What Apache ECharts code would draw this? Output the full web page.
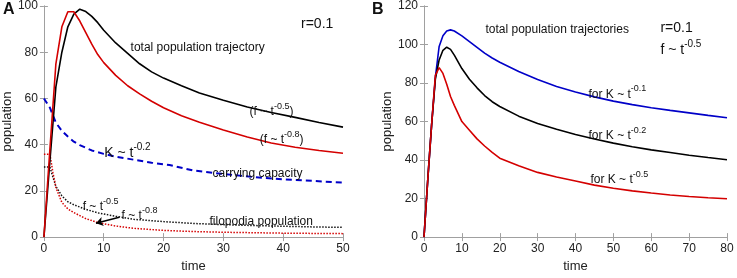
<!DOCTYPE html>
<html>
<head>
<meta charset="utf-8">
<script src="https://cdn.jsdelivr.net/npm/echarts@6/dist/echarts.min.js"></script>
<style>
  html, body { margin: 0; background: #fff; }
  #chart { width: 737px; height: 278px; }
</style>
</head>
<body>
<div id="chart"></div>
<script>
// ---- panel A data ----
const timeA = [0, 1, 2, 3, 4, 5, 6, 7, 8, 9, 10, 12, 14, 16, 18, 20, 23, 26, 30, 34, 38, 42, 46, 50];
const totalF05 = [0, 33, 65, 80, 91, 96.5, 98.6, 97.6, 95.5, 92.8, 89.5, 84, 79.5, 75, 71.5, 68.8, 65.5, 62.4, 59.2, 56.3, 53.9, 51.8, 49.6, 47.6];
const totalF08 = [0, 38, 75, 91, 97.5, 97.5, 93.5, 88.5, 83.5, 79, 75.5, 70, 65.5, 62, 58.8, 56, 52.5, 49.7, 46.3, 43.3, 40.7, 38.9, 37.5, 36.3];

const timeK = [0, 1, 2, 3, 4, 5, 6, 8, 10, 12, 15, 18, 21, 25, 30, 35, 40, 45, 50];
const capacityK = [60, 56, 49.5, 46, 43.5, 41.3, 39.8, 37.5, 36, 34.8, 33.5, 32.2, 31.2, 28.8, 27.3, 26, 25, 24.3, 23.6];

const timeFilo = [0, 1, 1.5, 2, 3, 4, 5, 7, 9, 12, 15, 20, 25, 30, 35, 40, 45, 50];
const filoF05 = [30.3, 30.3, 26, 22, 17.8, 15.3, 14, 12, 10.5, 9, 7.7, 6.7, 5.9, 5.4, 5, 4.7, 4.4, 4.2];
const filoF08 = [35.9, 35.9, 28, 21.5, 15, 12.2, 10.6, 8, 6.3, 4.8, 3.8, 2.9, 2.4, 2.1, 1.9, 1.7, 1.6, 1.5];

// ---- panel B data ----
const timeB = [0, 1, 2, 3, 4, 5, 6, 7, 8, 10, 12, 14, 16, 18, 20, 25, 30, 35, 40, 45, 50, 55, 60, 65, 70, 75, 80];
const totalK01 = [0, 30, 58, 83, 99, 104.5, 107, 107.6, 107, 104.5, 101.5, 98.5, 95.5, 93, 90.8, 86, 81.8, 78.2, 75.3, 72.8, 70.6, 68.8, 67.2, 65.8, 64.5, 63.2, 62];
const totalK02 = [0, 30, 58, 82, 92, 97, 98.6, 97.5, 94.5, 87.5, 82, 77.5, 73.5, 70.3, 67.8, 62.8, 59, 56, 53.3, 50.9, 48.8, 46.9, 45.3, 43.9, 42.5, 41.3, 40.2];
const totalK05 = [0, 30, 58, 84, 88, 85, 79.4, 73, 68.4, 60, 55.5, 51, 47.3, 44, 41, 37, 33.6, 31.2, 29.1, 27, 25.4, 24, 22.9, 21.9, 21.1, 20.4, 19.9];

const ticksA = { xMax: 50, xStep: 10, yMax: 100, yStep: 20 };
const ticksB = { xMax: 80, xStep: 10, yMax: 120, yStep: 20 };

const RED = '#d40000';
const BLUE = '#0000c8';
const FONT = 'Liberation Sans';

const zip = (xs, ys) => xs.map((x, i) => [x, ys[i]]);

const richStyles = {
  b: { fontSize: 12, fontFamily: FONT, color: '#111', lineHeight: 16, verticalAlign: 'bottom' },
  big: { fontSize: 14, fontFamily: FONT, color: '#111', lineHeight: 18, verticalAlign: 'bottom' },
  s: { fontSize: 9, fontFamily: FONT, color: '#111', lineHeight: 16, verticalAlign: 'top' },
  bs: { fontSize: 10, fontFamily: FONT, color: '#111', lineHeight: 18, verticalAlign: 'top' }
};

// text annotation placed at a data coordinate (left edge, vertical middle)
function note(coord, text) {
  return {
    coord: coord,
    symbol: 'circle',
    symbolSize: 1,
    itemStyle: { color: 'rgba(0,0,0,0)' },
    label: {
      show: true, position: 'right', distance: 0,
      formatter: text, rich: richStyles
    }
  };
}

const notesA = [
  note([42.9, 93], '{big|r=0.1}'),
  note([14.4, 83], '{b|total population trajectory}'),
  note([34.3, 55], '{b|(f ~ t}{s|-0.5}{b|)}'),
  note([36, 43], '{b|(f ~ t}{s|-0.8}{b|)}'),
  note([10, 37.3], '{big|K ~ t}{bs|-0.2}'),
  note([28.1, 28.5], '{b|carrying capacity}'),
  note([6.4, 14], '{b|f ~ t}{s|-0.5}'),
  note([12.9, 10], '{b|f ~ t}{s|-0.8}'),
  note([27.6, 7.6], '{b|filopodia population}')
];

const notesB = [
  note([16.1, 108.5], '{b|total population trajectories}'),
  note([62.3, 109.5], '{big|r=0.1}'),
  note([62.3, 98], '{big|f ~ t}{bs|-0.5}'),
  note([43.3, 75.2], '{b|for K ~ t}{s|-0.1}'),
  note([43.3, 53.7], '{b|for K ~ t}{s|-0.2}'),
  note([43.8, 30.7], '{b|for K ~ t}{s|-0.5}')
];

const axisLine = { show: true, lineStyle: { color: '#a0a0a0', width: 1 } };
const axisTick = { show: true, inside: true, length: 4, lineStyle: { color: '#a0a0a0' } };
const axisLabel = { color: '#222', fontSize: 12, fontFamily: FONT, margin: 6 };

function xAxes(gridIndex, t) {
  return [
    { type: 'value', gridIndex, min: 0, max: t.xMax, interval: t.xStep,
      name: 'time', nameLocation: 'middle', nameGap: 21,
      nameTextStyle: { fontSize: 13, fontFamily: FONT, color: '#222' },
      axisLine, axisTick, axisLabel, splitLine: { show: false } },
    { type: 'value', gridIndex, position: 'top', min: 0, max: t.xMax, interval: t.xStep,
      axisLine, axisTick, axisLabel: { show: false }, splitLine: { show: false } }
  ];
}

function yAxes(gridIndex, t) {
  return [
    { type: 'value', gridIndex, min: 0, max: t.yMax, interval: t.yStep,
      name: 'population', nameLocation: 'middle', nameGap: 20,
      nameTextStyle: { fontSize: 13, fontFamily: FONT, color: '#222' },
      axisLine, axisTick, axisLabel, splitLine: { show: false } },
    { type: 'value', gridIndex, position: 'right', min: 0, max: t.yMax, interval: t.yStep,
      axisLine, axisTick, axisLabel: { show: false }, splitLine: { show: false } }
  ];
}

function line(name, data, xi, yi, color, extra) {
  return Object.assign({
    name, type: 'line', data, xAxisIndex: xi, yAxisIndex: yi,
    showSymbol: false, symbol: 'none', smooth: false, animation: false,
    lineStyle: { color, width: 1.6 }
  }, extra || {});
}

const chart = echarts.init(document.getElementById('chart'), null, { renderer: 'canvas' });

const option = {
  animation: false,
  backgroundColor: '#fff',
  grid: [
    { left: 39, top: 6, width: 304, height: 237 },
    { left: 424, top: 6, width: 303, height: 237 }
  ],
  xAxis: [...xAxes(0, ticksA), ...xAxes(1, ticksB)],
  yAxis: [...yAxes(0, ticksA), ...yAxes(1, ticksB)],
  graphic: [
    { type: 'text', left: 3, top: 2, style: { text: 'A', fontSize: 16, fontWeight: 'bold', fontFamily: FONT, fill: '#111' } },
    { type: 'text', left: 372, top: 2, style: { text: 'B', fontSize: 16, fontWeight: 'bold', fontFamily: FONT, fill: '#111' } }
  ],
  series: [
    line('K', zip(timeK, capacityK), 0, 0, BLUE, {
      lineStyle: { color: BLUE, width: 2, type: [6, 4] }
    }),
    line('filo f05', zip(timeFilo, filoF05), 0, 0, '#111', {
      lineStyle: { color: '#111', width: 1.5, type: [1.5, 1.5] }
    }),
    line('filo f08', zip(timeFilo, filoF08), 0, 0, RED, {
      lineStyle: { color: RED, width: 1.5, type: [1.5, 1.5] },
      markLine: {
        silent: true, symbol: ['none', 'arrow'], symbolSize: 7,
        lineStyle: { color: '#000', width: 1.4, type: 'solid' },
        label: { show: false },
        data: [[{ coord: [12.6, 8.6] }, { coord: [8.7, 6.0] }]]
      }
    }),
    line('total f05', zip(timeA, totalF05), 0, 0, '#000', {
      markPoint: { silent: true, data: notesA }
    }),
    line('total f08', zip(timeA, totalF08), 0, 0, RED),
    line('K01', zip(timeB, totalK01), 2, 2, BLUE, {
      markPoint: { silent: true, data: notesB }
    }),
    line('K02', zip(timeB, totalK02), 2, 2, '#000'),
    line('K05', zip(timeB, totalK05), 2, 2, RED)
  ]
};

chart.setOption(option);
</script>
</body>
</html>
